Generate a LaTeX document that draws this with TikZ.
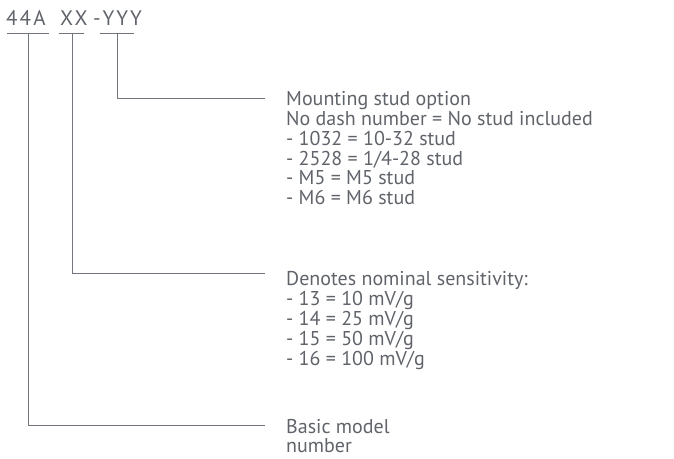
\documentclass[tikz,border=0pt]{standalone}
\usepackage{fontspec}
\setmainfont{PT Sans}
\definecolor{txt}{RGB}{96,100,106}
\definecolor{ln}{RGB}{112,118,124}
\begin{document}
\begin{tikzpicture}[x=1pt,y=-1pt,
  lbl/.style={anchor=base west,inner sep=0,text=txt,font=\fontsize{20}{19.3}\selectfont},
  codelbl/.style={lbl,font=\fontsize{21}{21}\selectfont\addfontfeature{LetterSpace=10}},
  conn/.style={draw=ln,line width=1pt}]
\useasboundingbox (0,0) rectangle (674,458);
% code
\node[codelbl] (c44) at (6,25) {44A};
\node[codelbl] (cxx) at (60,25) {XX};
\node[codelbl] (cyy) at (93,25) {-YYY};
\coordinate (u1) at (28,33);
\coordinate (u2) at (72,33);
\coordinate (u3) at (117,33);
\draw[conn] (7,33) -- (49,33);
\draw[conn] (59,33) -- (84,33);
\draw[conn] (100,33) -- (134,33);
% descriptions
\node[lbl] (mount) at (286,105) {\begin{tabular}[t]{@{}l@{}}Mounting stud option\\No dash number = No stud included\\- 1032 = 10-32 stud\\- 2528 = 1/4-28 stud\\- M5 = M5 stud\\- M6 = M6 stud\end{tabular}};
\node[lbl] (sens) at (286,285) {\begin{tabular}[t]{@{}l@{}}Denotes nominal sensitivity:\\- 13 = 10 mV/g\\- 14 = 25 mV/g\\- 15 = 50 mV/g\\- 16 = 100 mV/g\end{tabular}};
\node[lbl] (basic) at (286,433) {\begin{tabular}[t]{@{}l@{}}Basic model\\number\end{tabular}};
\coordinate (e1) at (265,98);
\coordinate (e2) at (265,273);
\coordinate (e3) at (265,425);
\draw[conn] (u3) |- (e1);
\draw[conn] (u2) |- (e2);
\draw[conn] (u1) |- (e3);
\end{tikzpicture}
\end{document}
